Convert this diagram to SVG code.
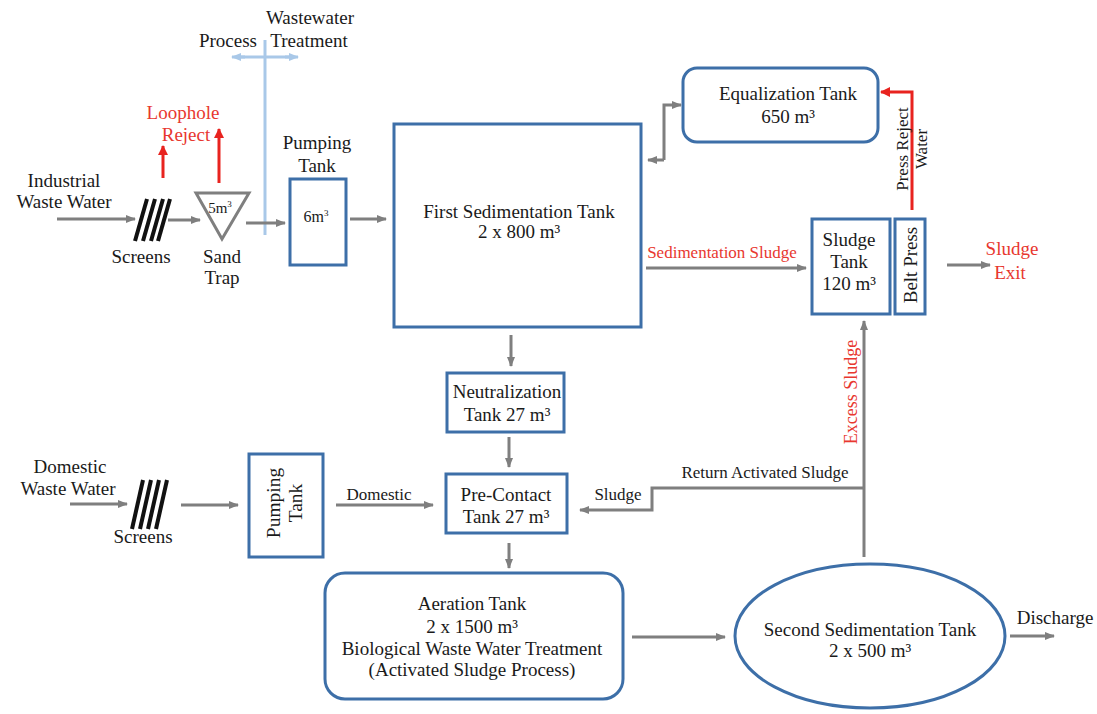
<svg xmlns="http://www.w3.org/2000/svg" width="1097" height="714" viewBox="0 0 1097 714">
<defs>
<marker id="ag" markerWidth="10" markerHeight="8" refX="9" refY="4" orient="auto" markerUnits="userSpaceOnUse"><path d="M0,0 L10,4 L0,8 Z" fill="#7f7f7f"/></marker>
<marker id="ar" markerWidth="10" markerHeight="10" refX="9" refY="5" orient="auto" markerUnits="userSpaceOnUse"><path d="M0,0 L10,5 L0,10 Z" fill="#e8231f"/></marker>
<marker id="ab" markerWidth="10" markerHeight="8" refX="9" refY="4" orient="auto" markerUnits="userSpaceOnUse"><path d="M0,0 L10,4 L0,8 Z" fill="#a9c8e8"/></marker>
</defs>
<style>
text{font-family:'Liberation Serif','Times New Roman',serif;font-size:19px;fill:#1a1a1a;text-anchor:middle}
.red{fill:#e8372f}
.s17{font-size:17px}
.box{fill:#fff;stroke:#3d6fa8;stroke-width:3}
.g{fill:none;stroke:#7f7f7f;stroke-width:3;marker-end:url(#ag)}
.r{fill:none;stroke:#e8231f;stroke-width:3;marker-end:url(#ar)}
.scr{stroke:#111;stroke-width:4}
</style>
<rect width="1097" height="714" fill="#fff"/>

<g id="boundary">
<line x1="265" y1="40" x2="265" y2="235" stroke="#a9c8e8" stroke-width="3"/>
<line x1="245" y1="57" x2="232" y2="57" stroke="#a9c8e8" stroke-width="3" marker-end="url(#ab)"/>
<line x1="285" y1="57" x2="298" y2="57" stroke="#a9c8e8" stroke-width="3" marker-end="url(#ab)"/>
<line x1="240" y1="57" x2="290" y2="57" stroke="#a9c8e8" stroke-width="3"/>
<text x="228" y="47">Process</text>
<text x="310" y="24">Wastewater</text>
<text x="309" y="47">Treatment</text>
</g>

<g id="connectors">
<line class="g" x1="57" y1="219" x2="135" y2="219"/>
<line class="g" x1="168" y1="220" x2="200" y2="220"/>
<line class="g" x1="246" y1="223" x2="285" y2="223"/>
<line class="g" x1="350" y1="219" x2="386" y2="219"/>
<line class="r" x1="163" y1="178" x2="163" y2="146"/>
<line class="r" x1="219" y1="183" x2="219" y2="129"/>
<polyline class="g" points="664,160 664,105 681,105"/>
<line class="g" x1="664" y1="160" x2="648" y2="160"/>
<polyline class="r" points="912,210 912,92 881,92"/>
<line class="g" x1="646" y1="268" x2="806" y2="268"/>
<line class="g" x1="947" y1="265" x2="990" y2="265"/>
<line class="g" x1="511" y1="335" x2="511" y2="366"/>
<line class="g" x1="509" y1="437" x2="509" y2="467"/>
<line class="g" x1="70" y1="504" x2="127" y2="504"/>
<line class="g" x1="181" y1="505" x2="238" y2="505"/>
<line class="g" x1="336" y1="505" x2="433" y2="505"/>
<line class="g" x1="864" y1="557" x2="864" y2="321"/>
<polyline class="g" points="864,488 652,488 652,510 580,510"/>
<line class="g" x1="509" y1="543" x2="509" y2="568"/>
<line class="g" x1="632" y1="637" x2="725" y2="637"/>
<line class="g" x1="1010" y1="636" x2="1054" y2="636"/>
</g>

<g id="labels">
<text class="red" x="183" y="119">Loophole</text>
<text class="red" x="186" y="141">Reject</text>
<text class="red s17" x="722" y="258">Sedimentation Sludge</text>
<text class="red" x="1012" y="255">Sludge</text>
<text class="red" x="1010" y="279">Exit</text>
<text class="red" style="font-size:18px" transform="translate(857,392) rotate(-90)">Excess Sludge</text>
<text class="s17" transform="translate(908,149) rotate(-90)">Press Reject</text>
<text class="s17" transform="translate(927,149) rotate(-90)">Water</text>
<text class="s17" x="379" y="500">Domestic</text>
<text class="s17" x="765" y="478">Return Activated Sludge</text>
<text class="s17" x="618" y="500">Sludge</text>
<text x="1055" y="624">Discharge</text>
</g>

<g id="industrial-input">
<text x="64" y="187">Industrial</text>
<text x="64" y="208">Waste Water</text>
</g>

<g id="screens-1">
<line class="scr" x1="147" y1="199" x2="135" y2="241"/>
<line class="scr" x1="155" y1="199" x2="143" y2="241"/>
<line class="scr" x1="163" y1="199" x2="151" y2="241"/>
<line class="scr" x1="170" y1="199" x2="158" y2="241"/>
<text x="141" y="263">Screens</text>
</g>

<g id="sand-trap">
<polygon points="196,193 249,193 222,239" fill="#fff" stroke="#7f7f7f" stroke-width="3"/>
<text x="220" y="213" style="font-size:15px">5m<tspan dy="-6" style="font-size:9px">3</tspan></text>
<text x="222" y="263">Sand</text>
<text x="222" y="284">Trap</text>
</g>

<g id="pumping-tank-1">
<rect class="box" x="290" y="179" width="56" height="86"/>
<text x="316" y="222" style="font-size:16px">6m<tspan dy="-6" style="font-size:9px">3</tspan></text>
<text x="317" y="149">Pumping</text>
<text x="317" y="172">Tank</text>
</g>

<g id="first-sedimentation">
<rect class="box" x="394" y="124" width="247" height="203"/>
<text x="519" y="218">First Sedimentation Tank</text>
<text x="519" y="238">2 x 800 m³</text>
</g>

<g id="equalization">
<rect class="box" x="683" y="68" width="195" height="74" rx="14"/>
<text x="788" y="100">Equalization Tank</text>
<text x="788" y="123">650 m³</text>
</g>

<g id="sludge-tank">
<rect class="box" x="812" y="219" width="78" height="95"/>
<text x="849" y="246">Sludge</text>
<text x="849" y="268">Tank</text>
<text x="849" y="290">120 m³</text>
</g>

<g id="belt-press">
<rect class="box" x="895" y="219" width="30" height="95"/>
<text transform="translate(917,265) rotate(-90)">Belt Press</text>
</g>

<g id="neutralization">
<rect class="box" x="447" y="373" width="117" height="59"/>
<text x="507" y="398">Neutralization</text>
<text x="507" y="421">Tank 27 m³</text>
</g>

<g id="domestic-input">
<text x="70" y="473">Domestic</text>
<text x="68" y="495">Waste Water</text>
</g>

<g id="screens-2">
<line class="scr" x1="143" y1="480" x2="132" y2="529"/>
<line class="scr" x1="151" y1="480" x2="140" y2="529"/>
<line class="scr" x1="159" y1="480" x2="148" y2="529"/>
<line class="scr" x1="167" y1="480" x2="156" y2="529"/>
<text x="143" y="543">Screens</text>
</g>

<g id="pumping-tank-2">
<rect class="box" x="249" y="454" width="74" height="103"/>
<text style="font-size:19.5px" transform="translate(280,503) rotate(-90)">Pumping</text>
<text style="font-size:19.5px" transform="translate(302,503) rotate(-90)">Tank</text>
</g>

<g id="pre-contact">
<rect class="box" x="446" y="474" width="121" height="59"/>
<text x="506" y="501">Pre-Contact</text>
<text x="506" y="523">Tank 27 m³</text>
</g>

<g id="aeration">
<rect class="box" x="325" y="573" width="298" height="126" rx="20"/>
<text x="472" y="610">Aeration Tank</text>
<text x="472" y="633">2 x 1500 m³</text>
<text x="472" y="655">Biological Waste Water Treatment</text>
<text x="472" y="676">(Activated Sludge Process)</text>
</g>

<g id="second-sedimentation">
<ellipse class="box" cx="870" cy="636" rx="135" ry="72"/>
<text x="870" y="636">Second Sedimentation Tank</text>
<text x="870" y="657">2 x 500 m³</text>
</g>
</svg>
